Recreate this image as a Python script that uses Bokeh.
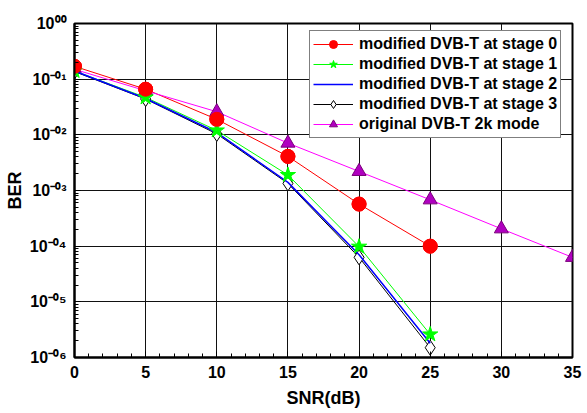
from bokeh.plotting import figure
from bokeh.models import FixedTicker, Legend
from bokeh.embed import file_html
from bokeh.resources import INLINE

snr = [0, 5, 10, 15, 20, 25]
snr_orig = [0, 5, 10, 15, 20, 25, 30, 35]
ber_stage0 = [0.17, 0.066, 0.019, 0.0041, 5.7e-4, 1.0e-4]
ber_stage1 = [0.14, 0.047, 0.012, 0.0019, 9.8e-5, 2.6e-6]
ber_stage2 = [0.14, 0.045, 0.011, 0.0014, 7.0e-5, 1.8e-6]
ber_stage3 = [0.137, 0.044, 0.0104, 0.00134, 6.3e-5, 1.5e-6]
ber_orig = [0.15, 0.062, 0.026, 0.0071, 0.0022, 6.8e-4, 2.05e-4, 6.3e-5]

x_ticks = [0, 5, 10, 15, 20, 25, 30, 35]
y_exps = [0, -1, -2, -3, -4, -5, -6]
y_tick_labels = ["10⁰⁰", "10⁻⁰¹", "10⁻⁰²", "10⁻⁰³", "10⁻⁰⁴", "10⁻⁰⁵", "10⁻⁰⁶"]

FONT = "Liberation Sans"

p = figure(width=587, height=413, x_range=(0, 35), y_range=(1e-6, 1),
           y_axis_type="log", output_backend="svg", toolbar_location=None,
           min_border_left=74, min_border_right=15, min_border_top=23,
           min_border_bottom=56)

p.outline_line_color = "black"
p.outline_line_width = 2

p.xgrid.grid_line_color = "#111111"
p.ygrid.grid_line_color = "#111111"
p.xgrid.grid_line_width = 1
p.ygrid.grid_line_width = 1

y_major = [10.0 ** e for e in y_exps]
y_minor = [m * 10.0 ** e for e in range(-6, 0) for m in range(2, 10)]
p.yaxis.ticker = FixedTicker(ticks=y_major, minor_ticks=y_minor)
p.xaxis.ticker = FixedTicker(ticks=x_ticks, minor_ticks=list(range(0, 36)))
p.ygrid.ticker = FixedTicker(ticks=y_major)
p.xgrid.ticker = FixedTicker(ticks=x_ticks)

for ax in (p.xaxis[0], p.yaxis[0]):
    ax.axis_line_color = "black"
    ax.axis_line_width = 2
    ax.major_tick_in = 6
    ax.major_tick_out = 0
    ax.minor_tick_in = 4
    ax.minor_tick_out = 0
    ax.major_tick_line_color = "black"
    ax.minor_tick_line_color = "black"
    ax.axis_label_text_font = FONT
    ax.axis_label_text_font_style = "bold"
    ax.axis_label_text_color = "black"
    ax.major_label_text_font = FONT
    ax.major_label_text_font_style = "bold"
    ax.major_label_text_color = "black"

p.xaxis.axis_label = "SNR(dB)"
p.xaxis.axis_label_text_font_size = "18px"
p.xaxis.major_label_text_font_size = "16px"
p.xaxis.major_label_standoff = 8
p.xaxis.axis_label_standoff = 7

p.yaxis.axis_label = "BER"
p.yaxis.axis_label_text_font_size = "18px"
p.yaxis.major_label_text_font_size = "16px"
p.yaxis.major_label_overrides = {v: t for v, t in zip(y_major, y_tick_labels)}
p.yaxis.major_label_standoff = 8
p.yaxis.axis_label_standoff = 2

# series
r0l = p.line(snr, ber_stage0, line_color="#FF0000", line_width=1)
r0m = p.scatter(snr, ber_stage0, marker="circle", size=14, fill_color="#FF0000",
                line_color="#FF0000")
r4l = p.line(snr_orig, ber_orig, line_color="#FF00FF", line_width=1)
r4m = p.scatter(snr_orig, ber_orig, marker="triangle", size=14, fill_color="#B000C0",
                line_color="#7A007A")
r1l = p.line(snr, ber_stage1, line_color="#00FF00", line_width=1)
r3l = p.line(snr, ber_stage3, line_color="black", line_width=1)
r3m = p.scatter(snr, ber_stage3, marker="diamond", size=15, fill_color="white",
                line_color="black")
r2l = p.line(snr, ber_stage2, line_color="#0000FF", line_width=1.5)
r1m = p.scatter(snr, ber_stage1, marker="star", size=16, fill_color="#00FF00",
                line_color="#00FF00")
r0m2 = p.scatter(snr, ber_stage0, marker="circle", size=14, fill_color="#FF0000",
                 line_color="#FF0000")

legend = Legend(items=[
    ("modified DVB-T at stage 0", [r0l, r0m]),
    ("modified DVB-T at stage 1", [r1l, r1m]),
    ("modified DVB-T at stage 2", [r2l]),
    ("modified DVB-T at stage 3", [r3l, r3m]),
    ("original DVB-T 2k mode", [r4l, r4m]),
], location=(235, 219))
legend.border_line_color = "black"
legend.border_line_width = 1
legend.background_fill_color = "white"
legend.background_fill_alpha = 1
legend.label_text_font = FONT
legend.label_text_font_style = "bold"
legend.label_text_font_size = "16px"
legend.label_text_color = "black"
legend.glyph_width = 40
legend.glyph_height = 20
legend.label_height = 20
legend.spacing = 0
legend.padding = 3
legend.margin = 0
legend.label_standoff = 6
p.add_layout(legend)

open("out.html", "w").write(file_html(p, INLINE))
